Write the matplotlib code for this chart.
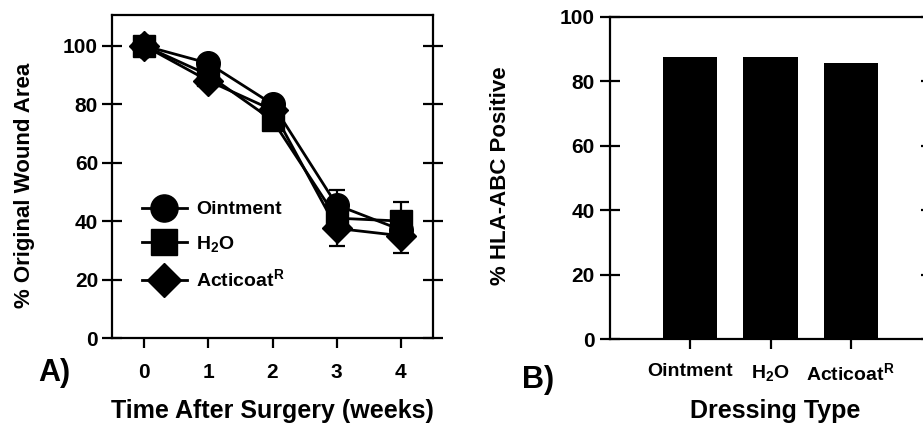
import numpy as np
from matplotlib import pyplot as plt

# fonts: Arial-like bold everywhere, including mathtext sub/superscripts
plt.rcParams['font.family'] = ['Liberation Sans', 'DejaVu Sans']
plt.rcParams['font.weight'] = 'bold'
plt.rcParams['axes.labelweight'] = 'bold'
plt.rcParams['mathtext.fontset'] = 'custom'
plt.rcParams['mathtext.rm'] = 'Liberation Sans:bold'
plt.rcParams['mathtext.it'] = 'Liberation Sans:bold'
plt.rcParams['mathtext.bf'] = 'Liberation Sans:bold'

# panel A data
weeks = [0, 1, 2, 3, 4]
ointment = [100, 94, 80, 45.5, 37]
ointment_err = [0, 2, 2, 5, 3]
water = [100, 90, 74.5, 41, 40]
water_err = [0, 2, 3, 4, 6.5]
acticoat = [100, 88, 78, 37.5, 35]
acticoat_err = [0, 2, 2, 6, 6]

# panel B data
dressings = ['Ointment', 'H$_2$O', 'Acticoat$^{R}$']
hla_positive = [87.5, 87.5, 85.8]

W, H = 923, 423
fig = plt.figure(figsize=(W / 100, H / 100), dpi=100)


def px_axes(x0, y0, x1, y1):
    # pixel box (top-left origin) -> figure fraction axes
    return fig.add_axes([x0 / W, 1 - y1 / H, (x1 - x0) / W, (y1 - y0) / H])


# ---------------- panel A ----------------
ax = px_axes(112, 15, 433, 338)
series = [
    (acticoat, acticoat_err, 'D', 15, 'Acticoat$^{R}$'),
    (water, water_err, 's', 16, 'H$_2$O'),
    (ointment, ointment_err, 'o', 17, 'Ointment'),
]
handles = {}
for vals, err, mk, ms, lab in series:
    h = ax.errorbar(weeks, vals, yerr=err, color='black', marker=mk,
                    markersize=ms, linewidth=2, elinewidth=1.6,
                    capsize=6, capthick=1.6, label=lab)
    handles[lab] = h[0]  # line only, no error bars in the legend

order = ['Ointment', 'H$_2$O', 'Acticoat$^{R}$']
ax.legend([handles[k] for k in order], order, loc='upper left',
          bbox_to_anchor=(0.093, 0.425), frameon=False, fontsize=14,
          borderpad=0, borderaxespad=0, handlelength=2.3,
          handletextpad=0.5, labelspacing=0.78, markerscale=1.15)

ax.set_xlim(-0.5, 4.5)
ax.set_ylim(0, 110.5)
ax.set_xticks(weeks)
ax.set_yticks(range(0, 101, 20))
for s in ax.spines.values():
    s.set_linewidth(1.6)
ax.tick_params(axis='y', direction='inout', length=14, width=1.6,
               labelsize=15, pad=3, right=True)
ax.tick_params(axis='x', direction='out', length=7, width=1.6,
               labelsize=15, pad=11)
ax.set_xlabel('Time After Surgery (weeks)', fontsize=18)
ax.set_ylabel('% Original Wound Area', fontsize=16)
ax.xaxis.set_label_coords((272 - 112) / 321, (338 - 411) / 323)
ax.xaxis.label.set_va('center')
ax.yaxis.set_label_coords((24 - 112) / 321, (338 - 185) / 323)
ax.yaxis.label.set_va('center')
fig.text(38 / W, 1 - 373 / H, 'A)', fontsize=22, va='center', ha='left')

# ---------------- panel B ----------------
bx = px_axes(610, 17, 931, 339)
pos = np.arange(len(dressings))
bx.bar(pos, hla_positive, width=0.675, color='black')
bx.set_xlim(-1, 3)
bx.set_ylim(0, 100)
bx.set_xticks(pos)
bx.set_xticklabels(dressings)
bx.set_yticks(range(0, 101, 20))
for s in bx.spines.values():
    s.set_linewidth(1.6)
bx.tick_params(axis='y', direction='inout', length=14, width=1.6,
               labelsize=15, pad=4, right=True)
bx.tick_params(axis='x', direction='out', length=7, width=1.6,
               labelsize=14, pad=10)
bx.set_xlabel('Dressing Type', fontsize=18)
bx.set_ylabel('% HLA-ABC Positive', fontsize=16)
bx.xaxis.set_label_coords((775 - 610) / 321, (339 - 411) / 322)
bx.xaxis.label.set_va('center')
bx.yaxis.set_label_coords((500 - 610) / 321, (339 - 176) / 322)
bx.yaxis.label.set_va('center')
fig.text(522 / W, 1 - 380 / H, 'B)', fontsize=22, va='center', ha='left')

fig.savefig('out.png', dpi=100)
